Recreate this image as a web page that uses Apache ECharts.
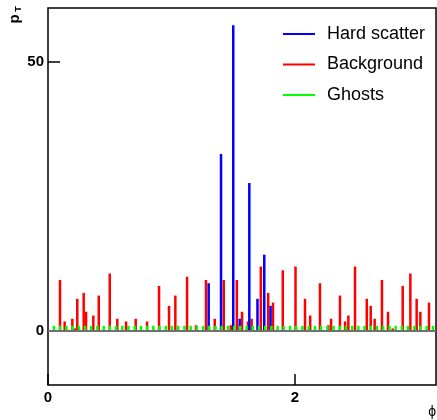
<!DOCTYPE html>
<html>
<head>
<meta charset="utf-8">
<script src="https://cdn.jsdelivr.net/npm/echarts@6/dist/echarts.min.js"></script>
<style>html,body{margin:0;padding:0;background:#fff;}#chart{width:437px;height:420px;}</style>
</head>
<body>
<div id="chart"></div>
<script>
// ---- data ----
const seriesNames = ['Hard scatter', 'Background', 'Ghosts'];

const phiHard = [1.301, 1.401, 1.500, 1.552, 1.630, 1.696, 1.751, 1.802];
const ptHard  = [8.9, 32.9, 56.8, 2.3, 27.5, 6.0, 14.2, 4.7];

const phiBkg = [0.097, 0.135, 0.197, 0.216, 0.237, 0.289, 0.308, 0.367, 0.411, 0.500,
                0.561, 0.632, 0.710, 0.802, 0.899, 0.980, 1.031, 1.126, 1.198, 1.279,
                1.350, 1.423, 1.480, 1.529, 1.571, 1.619, 1.649, 1.723, 1.783, 1.822,
                1.901, 2.004, 2.081, 2.123, 2.202, 2.270, 2.292, 2.364, 2.405, 2.432,
                2.486, 2.581, 2.613, 2.645, 2.704, 2.753, 2.791, 2.872, 2.934, 2.985,
                3.015, 3.085];
const ptBkg  = [9.5, 1.8, 2.3, 0.5, 6.0, 7.1, 3.6, 2.9, 6.6, 10.7,
                2.3, 1.8, 2.3, 1.8, 8.4, 4.7, 6.6, 10.1, 1.1, 9.5,
                2.3, 9.5, 1.1, 9.5, 3.6, 1.8, 2.3, 12.0, 7.1, 5.3,
                11.3, 12.0, 6.0, 2.9, 8.9, 1.1, 2.3, 6.6, 1.8, 2.9,
                12.0, 6.0, 4.7, 2.3, 9.5, 3.6, 0.5, 8.4, 10.7, 6.0,
                3.6, 5.3];

const phiGhost = [0.048, 0.099, 0.149, 0.199, 0.250, 0.300, 0.350, 0.400, 0.451, 0.501,
                  0.551, 0.602, 0.652, 0.702, 0.753, 0.803, 0.853, 0.903, 0.954, 1.004,
                  1.054, 1.105, 1.155, 1.205, 1.256, 1.306, 1.356, 1.406, 1.457, 1.507,
                  1.557, 1.608, 1.658, 1.708, 1.759, 1.809, 1.859, 1.909, 1.960, 2.010,
                  2.060, 2.111, 2.161, 2.211, 2.262, 2.312, 2.362, 2.412, 2.463, 2.513,
                  2.563, 2.614, 2.664, 2.714, 2.765, 2.815, 2.865, 2.915, 2.966, 3.016,
                  3.066, 3.117];
const ptGhost = [1, 1, 1, 1, 1, 1, 1, 1, 1, 1,
                 1, 1, 1, 1, 1, 1, 1, 1, 1, 1,
                 1, 1, 1, 1, 1, 1, 1, 1, 1, 1,
                 1, 1, 1, 1, 1, 1, 1, 1, 1, 1,
                 1, 1, 1, 1, 1, 1, 1, 1, 1, 1,
                 1, 1, 1, 1, 1, 1, 1, 1, 1, 1,
                 1, 1];

const xTicks = [0, 2];
const yTicks = [0, 50];
const xMin = 0, xMax = Math.PI;
const yMin = -10, yMax = 60;

// ---- chart ----
const zip = (a, b) => a.map((v, i) => [v, b[i]]);
const font = 'Liberation Sans, Arial, Helvetica, sans-serif';
const chart = echarts.init(document.getElementById('chart'), null, {renderer: 'canvas'});

const barBase = {
  type: 'bar', barWidth: 2.5, barGap: '-100%', silent: true,
  emphasis: {disabled: true}
};

chart.setOption({
  animation: false,
  backgroundColor: '#fff',
  grid: {left: 48, top: 8, right: 1, bottom: 35, show: true, borderColor: '#000', borderWidth: 1.5, backgroundColor: 'transparent'},
  legend: {
    orient: 'vertical', left: 278, top: 19,
    icon: 'rect', itemWidth: 32, itemHeight: 2, itemGap: 10.5,
    textStyle: {fontFamily: font, fontSize: 18, color: '#000', lineHeight: 20, padding: [0, 0, 0, 7]},
    data: seriesNames, selectedMode: false
  },
  xAxis: {
    type: 'value', min: xMin, max: xMax,
    axisLine: {show: false, onZero: false},
    splitLine: {show: false},
    axisTick: {show: true, inside: true, length: 11, customValues: xTicks, lineStyle: {color: '#000', width: 1.5}},
    axisLabel: {customValues: xTicks, fontFamily: font, fontSize: 15, fontWeight: 'bold', color: '#000', margin: 5}
  },
  yAxis: {
    type: 'value', min: yMin, max: yMax,
    axisLine: {show: false},
    splitLine: {show: false},
    axisTick: {show: true, inside: true, length: 12, customValues: yTicks, lineStyle: {color: '#000', width: 1.5}},
    axisLabel: {customValues: yTicks, fontFamily: font, fontSize: 15, fontWeight: 'bold', color: '#000', margin: 4}
  },
  graphic: [
    {type: 'text', x: 15, y: 19, rotation: Math.PI / 2,
     style: {text: 'p', font: 'bold 15px ' + font, fill: '#000', align: 'center', verticalAlign: 'middle'}},
    {type: 'text', x: 19, y: 9, rotation: Math.PI / 2,
     style: {text: 'T', font: 'bold 9px ' + font, fill: '#000', align: 'center', verticalAlign: 'middle'}},
    {type: 'text', x: 436, y: 412,
     style: {text: 'ϕ', font: '14px ' + font, fill: '#000', align: 'right', verticalAlign: 'middle'}}
  ],
  series: [
    Object.assign({}, barBase, {name: 'Background', data: zip(phiBkg, ptBkg), itemStyle: {color: '#ff0000'}, z: 2}),
    Object.assign({}, barBase, {name: 'Hard scatter', data: zip(phiHard, ptHard), itemStyle: {color: '#0000ff'}, z: 3}),
    Object.assign({}, barBase, {name: 'Ghosts', data: zip(phiGhost, ptGhost), itemStyle: {color: '#00ff00'}, z: 4,
      markLine: {silent: true, symbol: 'none', label: {show: false},
        lineStyle: {color: '#707070', width: 2, type: 'solid'}, data: [{yAxis: 0}]}})
  ]
});
</script>
</body>
</html>
